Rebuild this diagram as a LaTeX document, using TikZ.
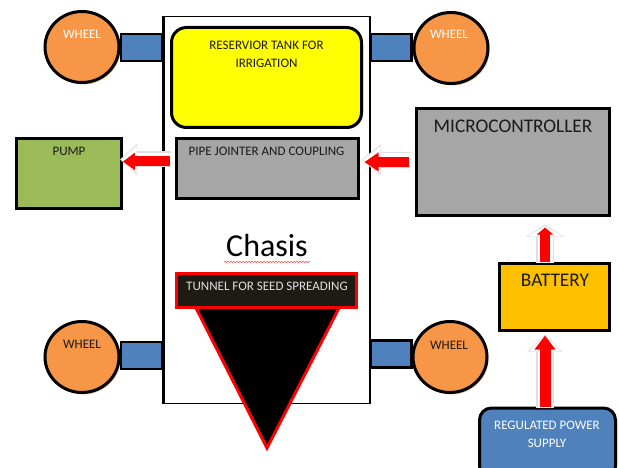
\documentclass[tikz,border=0pt]{standalone}
\usepackage{fontspec}
\setmainfont{Carlito}
\usetikzlibrary{shapes.geometric,arrows.meta,shadows,calc,decorations.pathmorphing}
\definecolor{wheelc}{HTML}{F79646}
\definecolor{axlec}{HTML}{4F81BD}
\definecolor{grayc}{HTML}{A6A6A6}
\definecolor{pumpc}{HTML}{9BBB59}
\definecolor{battc}{HTML}{FFC000}
\definecolor{tankc}{HTML}{FFFF00}
\definecolor{tunc}{HTML}{1E1A14}
\definecolor{txtc}{HTML}{1A1A1A}
\begin{document}
\begin{tikzpicture}[x=1pt,y=-1pt,
  shad/.style={drop shadow={shadow xshift=1.5pt,shadow yshift=-1.5pt,opacity=0.3,fill=black}},
  box/.style={draw=black,line width=3pt,rectangle,inner sep=0pt,shad},
  wheel/.style={ellipse,draw=black,line width=3pt,fill=wheelc,inner sep=0pt,minimum width=74pt,minimum height=71pt,drop shadow={shadow xshift=1.5pt,shadow yshift=-2pt,opacity=0.45,fill=brown}},
  axle/.style={rectangle,draw=black,line width=2.5pt,fill=axlec,inner sep=0pt,minimum width=41pt,minimum height=27pt},
  lbl/.style={anchor=base,inner sep=0pt,font=\fontsize{13}{15}\selectfont,text=txtc},
  big/.style={anchor=base,inner sep=0pt,font=\fontsize{19.3}{22}\selectfont,text=txtc},
  redarr/.style={draw=red,color=red},
  glow/.style={draw=gray!25,color=gray!25},
  glowin/.style={draw=white,color=white}]
\clip (0,0) rectangle (619,468);
\fill[white] (0,0) rectangle (619,468);

% chassis
\node[draw=black,line width=1.5pt,inner sep=0pt,minimum width=205.5pt,minimum height=386.5pt] (chassis) at (266.5,210) {};

% axles
\node[axle] (axtl) at (141.5,47.5) {};
\node[axle] (axtr) at (391,47.5) {};
\node[axle] (axbl) at (141.5,355.5) {};
\node[axle] (axbr) at (391,354) {};
\draw[black,line width=1.5pt] (chassis.north west) -- (chassis.south west);
\draw[black,line width=1.5pt] (chassis.north east) -- (chassis.south east);

% wheels
\node[wheel] (wtl) at (82,47) {};
\node[wheel] (wtr) at (451,48) {};
\node[wheel] (wbl) at (82,357) {};
\node[wheel] (wbr) at (450,357) {};
\node[lbl,text=white] (wtlt) at (82,39) {WHEEL};
\node[lbl,text=white] (wtrt) at (449,39) {WHEEL};
\node[lbl] (wblt) at (82,348) {WHEEL};
\node[lbl] (wbrt) at (449,349) {WHEEL};

% tank
\node[box,fill=tankc,rounded corners=15pt,minimum width=190pt,minimum height=100pt] (tank) at (266.5,77.5) {};
\node[lbl] (tankt1) at (266.5,50) {RESERVIOR TANK FOR};
\node[lbl] (tankt2) at (266.5,68) {IRRIGATION};

% pipe jointer
\node[box,fill=grayc,minimum width=182pt,minimum height=60pt] (pipe) at (267.5,168.5) {};
\node[lbl] (pipet) at (266.5,156) {PIPE JOINTER AND COUPLING};

% pump
\node[box,fill=pumpc,minimum width=105pt,minimum height=70pt] (pump) at (69,173.5) {};
\node[lbl] (pumpt) at (69,156) {PUMP};

% microcontroller
\node[box,fill=grayc,minimum width=193pt,minimum height=107pt] (micro) at (513,162) {};
\node[big] (microt) at (513,133) {MICROCONTROLLER};

% battery
\node[box,fill=battc,minimum width=110pt,minimum height=67pt] (batt) at (554.5,297) {};
\node[big] (battt) at (555,286) {BATTERY};

% power supply
\node[box,fill=axlec,rounded corners=12pt,minimum width=136pt,minimum height=70pt] (power) at (547.5,443) {};
\node[lbl,text=white] (powert1) at (547,429) {REGULATED POWER};
\node[lbl,text=white] (powert2) at (547,447) {SUPPLY};

% chasis label
\node[anchor=base,inner sep=0pt,font=\fontsize{32}{36}\selectfont,text=black] (chasist) at (267,256) {Chasis};
\draw[red!70,line width=0.5pt,decorate,decoration={snake,amplitude=0.7pt,segment length=3pt}] (224,262) -- (310,262);

% tunnel and funnel
\draw[red,line width=3pt,fill=black,line join=miter] (195,306) -- (340,306) -- (267,448) -- cycle;
\node[draw=red,line width=3pt,fill=tunc,inner sep=0pt,minimum width=180pt,minimum height=34pt,drop shadow={shadow xshift=1.5pt,shadow yshift=-1.5pt,opacity=0.3}] (tunnel) at (266.5,290.5) {};
\node[lbl,text=white!88!black] (tunnelt) at (267,290) {TUNNEL FOR SEED SPREADING};

% arrows
\coordinate (a1s) at ([xshift=-5pt,yshift=7pt]pipe.west);
\coordinate (a1e) at (a1s -| pump.east);
\coordinate (a2s) at ([xshift=-6pt]micro.west);
\coordinate (a2e) at ($(a2s -| pipe.east)+(4.5,0)$);
\coordinate (a3s) at ([xshift=-9.5pt]batt.north);
\coordinate (a3e) at ($(a3s |- micro.south)+(0,10.5)$);
\coordinate (a4s) at ([xshift=-2.5pt]power.north);
\coordinate (a4e) at ($(a4s |- batt.south)+(0,3.5)$);

\draw[glow,line width=16pt,shorten >=-3pt,-{Triangle[length=17pt,width=30pt]}] ([xshift=1pt,yshift=2pt]a1s) -- ([yshift=2pt]a1e);
\draw[glowin,line width=13pt,shorten >=-1.5pt,-{Triangle[length=15pt,width=26pt]}] ([xshift=1pt,yshift=2pt]a1s) -- ([yshift=2pt]a1e);
\draw[redarr,line width=10pt,-{Triangle[length=12pt,width=17pt]}] (a1s) -- (a1e);

\draw[glow,line width=16pt,shorten >=-3pt,-{Triangle[length=19pt,width=30pt]}] ([xshift=1pt,yshift=2pt]a2s) -- ([yshift=2pt]a2e);
\draw[glowin,line width=13pt,shorten >=-1.5pt,-{Triangle[length=17pt,width=26pt]}] ([xshift=1pt,yshift=2pt]a2s) -- ([yshift=2pt]a2e);
\draw[redarr,line width=10pt,-{Triangle[length=14pt,width=18pt]}] (a2s) -- (a2e);

\draw[glow,line width=18pt,shorten >=-3pt,-{Triangle[length=12pt,width=38pt]}] ([yshift=-1pt]a3s) -- (a3e);
\draw[glowin,line width=15pt,shorten >=-1.5pt,-{Triangle[length=10pt,width=34pt]}] ([yshift=-1pt]a3s) -- (a3e);
\draw[redarr,line width=10pt,-{Triangle[length=7pt,width=16pt]}] (a3s) -- (a3e);

\draw[glow,line width=18pt,shorten >=-1pt,-{Triangle[length=17pt,width=34pt]}] ([yshift=-1pt]a4s) -- (a4e);
\draw[glowin,line width=15pt,shorten >=0pt,-{Triangle[length=15pt,width=30pt]}] ([yshift=-1pt]a4s) -- (a4e);
\draw[redarr,line width=11pt,-{Triangle[length=14pt,width=20pt]}] (a4s) -- (a4e);
\end{tikzpicture}
\end{document}
